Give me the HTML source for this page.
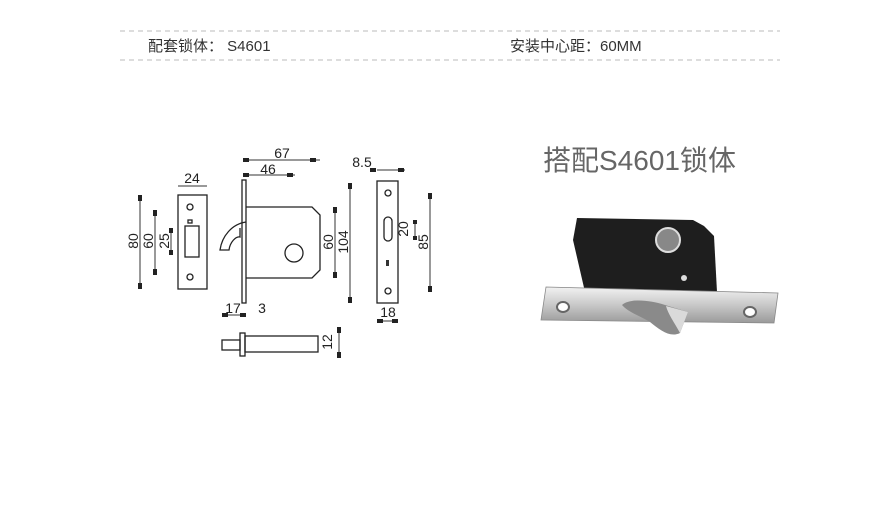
<!DOCTYPE html>
<html><head><meta charset="utf-8"><style>
body{margin:0;background:#fff;width:880px;height:524px;overflow:hidden}
svg{display:block}
text{font-family:"Liberation Sans","Noto Sans CJK SC",sans-serif}
</style></head><body>
<svg width="880" height="524" viewBox="0 0 880 524">
<g stroke="#bbb" stroke-dasharray="5,4" stroke-width="1">
<line x1="120" y1="31" x2="780" y2="31"/><line x1="120" y1="60" x2="780" y2="60"/></g>
<text x="148" y="51" font-size="15" fill="#333">配套锁体： S4601</text>
<text x="510" y="51" font-size="15" fill="#333">安装中心距：60MM</text>

<g fill="none" stroke="#222" stroke-width="1.3">
<rect x="178" y="195" width="29" height="94"/>
<circle cx="190" cy="207" r="3"/><circle cx="190" cy="277" r="3"/>
<rect x="185" y="226" width="14" height="31"/>
<rect x="188" y="220" width="4" height="3"/>
<rect x="242" y="180" width="4" height="123"/>
<path d="M246 207H312L320 215V270L312 278H246"/>
<circle cx="294" cy="253" r="9"/>
<path d="M246 222C232 224 222 236 220 250H229C230 242 236 236 240 237V228"/>
<rect x="377" y="181" width="21" height="122"/>
<circle cx="388" cy="193" r="3"/><circle cx="388" cy="291" r="3"/>
<rect x="384" y="217" width="8" height="24" rx="4"/>
<rect x="222" y="340" width="18" height="10"/>
<rect x="240" y="333" width="5" height="23"/>
<rect x="245" y="336" width="73" height="16"/>
</g>
<rect x="386" y="260" width="3" height="6" fill="#333"/>
<g stroke="#333" stroke-width="1" fill="none">
<line x1="178" y1="186" x2="207" y2="186"/>
<line x1="140" y1="195" x2="140" y2="289"/>
<line x1="155" y1="210" x2="155" y2="275"/>
<line x1="171" y1="228" x2="171" y2="255"/>
<line x1="243" y1="160" x2="320" y2="160"/>
<line x1="243" y1="175" x2="295" y2="175"/>
<line x1="335" y1="207" x2="335" y2="278"/>
<line x1="350" y1="183" x2="350" y2="303"/>
<line x1="222" y1="315" x2="246" y2="315"/>
<line x1="377" y1="170" x2="405" y2="170"/>
<line x1="430" y1="193" x2="430" y2="292"/>
<line x1="377" y1="321" x2="398" y2="321"/>
<line x1="339" y1="327" x2="339" y2="358"/>
<line x1="415" y1="220" x2="415" y2="240"/>
</g>
<g fill="#222">
<rect x="138" y="195" width="4" height="6"/><rect x="138" y="283" width="4" height="6"/>
<rect x="153" y="210" width="4" height="6"/><rect x="153" y="269" width="4" height="6"/>
<rect x="169" y="228" width="4" height="5"/><rect x="169" y="250" width="4" height="5"/>
<rect x="333" y="207" width="4" height="6"/><rect x="333" y="272" width="4" height="6"/>
<rect x="348" y="183" width="4" height="6"/><rect x="348" y="297" width="4" height="6"/>
<rect x="428" y="193" width="4" height="6"/><rect x="428" y="286" width="4" height="6"/>
<rect x="337" y="327" width="4" height="6"/><rect x="337" y="352" width="4" height="6"/>
<rect x="243" y="158" width="6" height="4"/><rect x="310" y="158" width="6" height="4"/>
<rect x="243" y="173" width="6" height="4"/><rect x="287" y="173" width="6" height="4"/>
<rect x="370" y="168" width="6" height="4"/><rect x="398" y="168" width="6" height="4"/>
<rect x="413" y="220" width="4" height="4"/><rect x="413" y="236" width="4" height="4"/>
<rect x="222" y="313" width="6" height="4"/><rect x="240" y="313" width="6" height="4"/>
<rect x="377" y="319" width="6" height="4"/><rect x="392" y="319" width="6" height="4"/>
</g>
<g font-size="14" fill="#222" text-anchor="middle">
<text x="192" y="183">24</text>
<text x="282" y="158">67</text>
<text x="268" y="174">46</text>
<text x="362" y="167">8.5</text>
<text x="233" y="313">17</text>
<text x="262" y="313">3</text>
<text x="388" y="317">18</text>
<text transform="translate(138,241) rotate(-90)">80</text>
<text transform="translate(153,241) rotate(-90)">60</text>
<text transform="translate(169,241) rotate(-90)">25</text>
<text transform="translate(333,242) rotate(-90)">60</text>
<text transform="translate(348,242) rotate(-90)">104</text>
<text transform="translate(408,229) rotate(-90)">20</text>
<text transform="translate(428,242) rotate(-90)">85</text>
<text transform="translate(332,342) rotate(-90)">12</text>
</g>

<defs><linearGradient id="st" x1="0" y1="0" x2="0" y2="1"><stop offset="0" stop-color="#f2f2f2"/><stop offset="0.5" stop-color="#c8c8c8"/><stop offset="1" stop-color="#9a9a9a"/></linearGradient></defs>
<text x="543" y="170" font-size="28" fill="#666">搭配S4601锁体</text>
<path d="M577 218L693 220L704 226L714 236L717 292L585 292L573 240Z" fill="#1e1e1e"/>
<circle cx="668" cy="240" r="12" fill="#888" stroke="#ddd" stroke-width="2"/>
<circle cx="684" cy="278" r="3" fill="#ddd"/>
<path d="M546 287L778 293L774 323L541 320Z" fill="url(#st)" stroke="#888" stroke-width="0.8"/>
<ellipse cx="563" cy="307" rx="6" ry="5" fill="#fff" stroke="#666" stroke-width="2"/>
<ellipse cx="750" cy="312" rx="6" ry="5" fill="#fff" stroke="#666" stroke-width="2"/>
<path d="M622 305C630 298 650 300 665 305L688 312L680 333C670 338 660 330 650 322C640 316 628 312 622 305Z" fill="#8a8a8a"/>
<path d="M666 306L688 312L680 333C674 322 668 314 666 306Z" fill="#dadada"/>
</svg>
</body></html>
